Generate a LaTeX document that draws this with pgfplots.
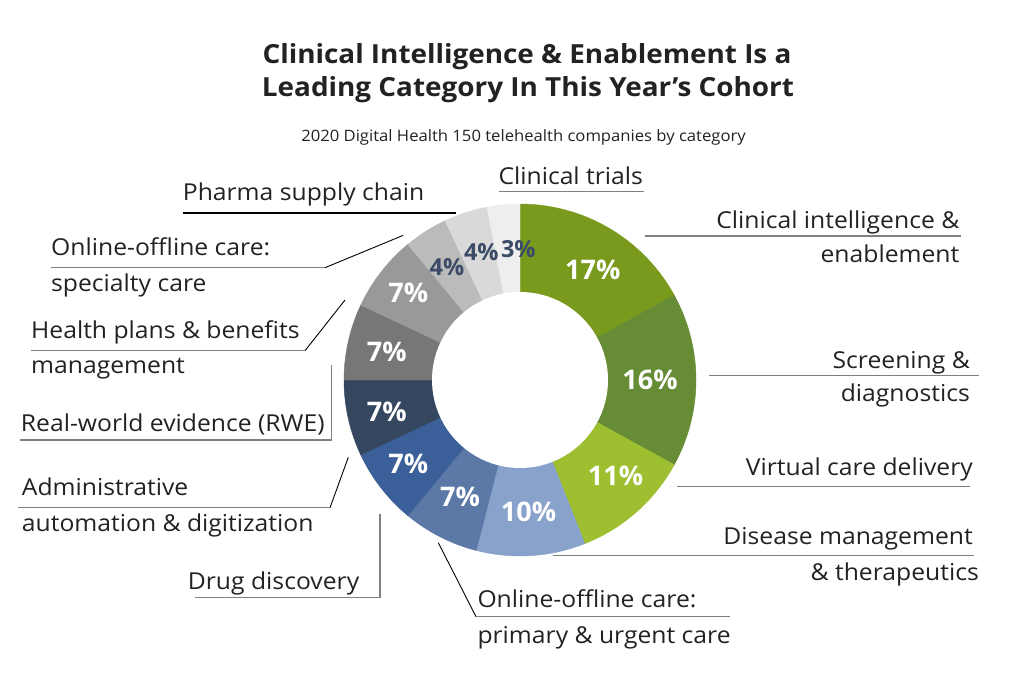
\documentclass[border=0pt]{standalone}
\usepackage{fontspec}
\setmainfont{Open Sans}[FakeStretch=1.06]
\newfontfamily\pctfont{Open Sans}
\usepackage{pgfplots}
\pgfplotsset{compat=1.18}
\definecolor{cA}{RGB}{122,154,30}
\definecolor{cB}{RGB}{102,140,53}
\definecolor{cC}{RGB}{157,191,48}
\definecolor{cD}{RGB}{136,162,203}
\definecolor{cE}{RGB}{91,120,166}
\definecolor{cF}{RGB}{59,95,152}
\definecolor{cG}{RGB}{53,70,95}
\definecolor{cH}{RGB}{119,119,119}
\definecolor{cI}{RGB}{153,153,153}
\definecolor{cJ}{RGB}{187,187,187}
\definecolor{cK}{RGB}{217,217,217}
\definecolor{cL}{RGB}{238,238,238}
\definecolor{txt}{RGB}{34,34,34}
\definecolor{dk}{RGB}{59,74,102}
\definecolor{ln}{RGB}{128,128,128}
% slice: start %, end %, colour  (clockwise from 12 o'clock)
\newcommand\slice[3]{%
  \addplot[fill=#3, draw=#3, line width=0.4pt, domain=#1:#2, samples=90, variable=\t]
    ({520+176*sin(3.6*\t)},{380-176*cos(3.6*\t)}) -- (axis cs:520,380) -- cycle;
}
\newcommand\lab[3]{\node[anchor=base #1, inner sep=0pt, text=txt, font=\fontsize{23.3}{28}\selectfont] at (axis cs:#2) {#3};}
\newcommand\pct[4]{\node[inner sep=0pt, text=#1, font=\pctfont\fontsize{#2}{#2}\selectfont\bfseries] at (axis cs:#3) {#4};}
\begin{document}
\begin{tikzpicture}
\begin{axis}[x=1pt, y=1pt, xmin=0, xmax=1024, ymin=0, ymax=679, y dir=reverse,
  hide axis, clip=false, scale only axis]
\path (axis cs:0,0) rectangle (axis cs:1024,679);
% values (%): 17,16,11,10,7,7,7,7,7,4,4,3
\slice{0}{17}{cA}
\slice{17}{33}{cB}
\slice{33}{44}{cC}
\slice{44}{54}{cD}
\slice{54}{61}{cE}
\slice{61}{68}{cF}
\slice{68}{75}{cG}
\slice{75}{82}{cH}
\slice{82}{89}{cI}
\slice{89}{93}{cJ}
\slice{93}{97}{cK}
\slice{97}{100}{cL}
\fill[white] (axis cs:520,380) circle[radius=88];
% percentage labels
\pct{white}{27}{592.8,270}{17\%}
\pct{white}{27}{650,379.7}{16\%}
\pct{white}{27}{615.5,476.2}{11\%}
\pct{white}{27}{528.5,511.7}{10\%}
\pct{white}{27}{460,496.7}{7\%}
\pct{white}{27}{408.3,464.3}{7\%}
\pct{white}{27}{386.7,411.7}{7\%}
\pct{white}{27}{386.7,352}{7\%}
\pct{white}{27}{408.3,293.3}{7\%}
\pct{dk}{23.5}{447,266.7}{4\%}
\pct{dk}{23.5}{481.3,252.5}{4\%}
\pct{dk}{23.5}{518.3,248.8}{3\%}
% leader lines
\draw[ln, line width=1.5pt] (axis cs:499,191.7) -- (axis cs:644,191.7);
\draw[ln, line width=1.5pt] (axis cs:645,236) -- (axis cs:961,236);
\draw[ln, line width=1.5pt] (axis cs:709,375.7) -- (axis cs:979,375.7);
\draw[ln, line width=1.5pt] (axis cs:677,486.7) -- (axis cs:970,486.7);
\draw[ln, line width=1.5pt] (axis cs:553,555.5) -- (axis cs:974,555.5);
\draw[black, line width=0.9pt] (axis cs:438.3,542.7) -- (axis cs:476,616.7);
\draw[ln, line width=1.5pt] (axis cs:476,616.7) -- (axis cs:730,616.7);
\draw[ln, line width=1.5pt] (axis cs:380,514.3) -- (axis cs:380,597.7) -- (axis cs:195,597.7);
\draw[black, line width=0.9pt] (axis cs:348.3,457.3) -- (axis cs:330,507.7);
\draw[ln, line width=1.5pt] (axis cs:330,507.7) -- (axis cs:18,507.7);
\draw[ln, line width=1.5pt] (axis cs:331.7,364.7) -- (axis cs:331.7,440) -- (axis cs:20,440);
\draw[black, line width=0.9pt] (axis cs:345,300) -- (axis cs:305,350.7);
\draw[ln, line width=1.5pt] (axis cs:305,350.7) -- (axis cs:31,350.7);
\draw[black, line width=0.9pt] (axis cs:403.3,235.3) -- (axis cs:325,267.7);
\draw[ln, line width=1.5pt] (axis cs:325,267.7) -- (axis cs:51,267.7);
\draw[black, line width=1.2pt] (axis cs:182.7,213) -- (axis cs:455.7,213);
% category labels
\lab{west}{498.3,184.3}{Clinical trials}
\lab{east}{959.5,228}{Clinical intelligence \&}
\lab{east}{959.5,262}{enablement}
\lab{east}{970,368}{Screening \&}
\lab{east}{970,401}{diagnostics}
\lab{east}{973,475}{Virtual care delivery}
\lab{east}{973,544}{Disease management}
\lab{east}{979,580}{\& therapeutics}
\lab{west}{477.3,607.3}{Online-offline care:}
\lab{west}{477.3,643.3}{primary \& urgent care}
\lab{west}{187.7,589}{Drug discovery}
\lab{west}{21.7,495.7}{Administrative}
\lab{west}{21.7,531.7}{automation \& digitization}
\lab{west}{20.7,431.7}{Real-world evidence (RWE)}
\lab{west}{31,338.3}{Health plans \& benefits}
\lab{west}{31,373.5}{management}
\lab{west}{51,255.7}{Online-offline care:}
\lab{west}{51,291.7}{specialty care}
\lab{west}{182.7,200.7}{Pharma supply chain}
% titles
\node[anchor=base, inner sep=0pt, text=txt, font=\fontsize{26.3}{30}\selectfont\bfseries] at (axis cs:527,63.3) {Clinical Intelligence \& Enablement Is a};
\node[anchor=base, inner sep=0pt, text=txt, font=\fontsize{26.3}{30}\selectfont\bfseries] at (axis cs:528,96.7) {Leading Category In This Year’s Cohort};
\node[anchor=base, inner sep=0pt, text=txt, font=\fontsize{15.7}{20}\selectfont] at (axis cs:523.5,141.7) {2020 Digital Health 150 telehealth companies by category};
\end{axis}
\end{tikzpicture}
\end{document}
